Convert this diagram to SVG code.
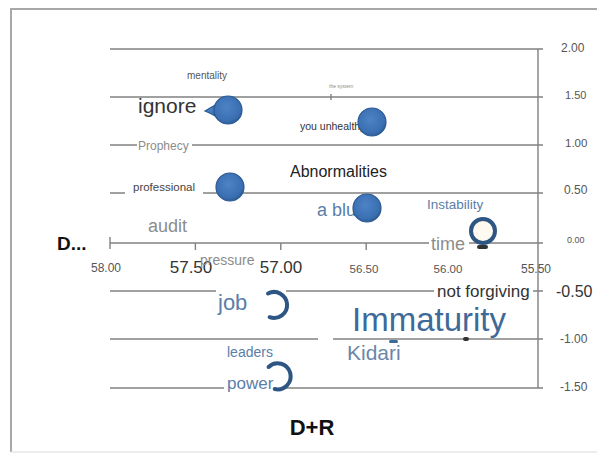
<svg xmlns="http://www.w3.org/2000/svg" width="597" height="456" viewBox="0 0 597 456">
  <defs>
    <radialGradient id="dotFill" cx="45%" cy="40%" r="60%">
      <stop offset="0" stop-color="#4d84c6"/>
      <stop offset="0.8" stop-color="#3a6fb2"/>
      <stop offset="1" stop-color="#2f5d98"/>
    </radialGradient>
    <style>
      .grid { stroke: #808080; stroke-width: 1.4; fill: none; }
      .knock { fill: #ffffff; }
      .t { font-family: "Liberation Sans", Arial, sans-serif; }
      .dark { fill: #333333; }
      .gray { fill: #8c8c8c; }
      .blue { fill: #5b7ea8; }
      .tick { fill: #555555; }
      .dot { fill: url(#dotFill); stroke: #2c5a93; stroke-width: 1.2; }
      .ring { fill: none; stroke: #2e5683; stroke-width: 4; stroke-linecap: round; }
    </style>
  </defs>

  <rect width="597" height="456" fill="#ffffff"/>
  <!-- outer frame -->
  <path d="M11,452 V9 H600" fill="none" stroke="#a8a8a8" stroke-width="2"/>
  <line x1="11" y1="452" x2="597" y2="452" stroke="#e6e6e6" stroke-width="1.5"/>

  <!-- gridlines and axes -->
  <g id="connectors">
    <line class="grid" x1="110" y1="49" x2="543" y2="49"/>
    <line class="grid" x1="110" y1="97" x2="543" y2="97"/>
    <line class="grid" x1="110" y1="145" x2="543" y2="145"/>
    <line class="grid" x1="110" y1="193" x2="543" y2="193"/>
    <line class="grid" x1="110" y1="243" x2="543" y2="243"/>
    <line class="grid" x1="110" y1="291" x2="543" y2="291"/>
    <line class="grid" x1="110" y1="339" x2="318" y2="339"/>
    <line class="grid" x1="333" y1="339" x2="543" y2="339"/>
    <line class="grid" x1="110" y1="388" x2="543" y2="388"/>
    <line class="grid" x1="538" y1="49" x2="538" y2="388"/>
    <!-- x-axis ticks -->
    <line class="grid" x1="110" y1="237" x2="110" y2="249"/>
    <line class="grid" x1="195.4" y1="243" x2="195.4" y2="250"/>
    <line class="grid" x1="280.8" y1="243" x2="280.8" y2="250"/>
    <line class="grid" x1="366.2" y1="243" x2="366.2" y2="250"/>
    <line class="grid" x1="451.6" y1="243" x2="451.6" y2="250"/>
    <line class="grid" x1="331" y1="94" x2="331" y2="100"/>
  </g>

  <!-- label backgrounds that break the gridlines -->
  <rect class="knock" x="137" y="139" width="55" height="12"/>
  <rect class="knock" x="125" y="182" width="78" height="13"/>
  <rect class="knock" x="429" y="234" width="40" height="18"/>
  <rect class="knock" x="434" y="282" width="99" height="19"/>
  <rect class="knock" x="216" y="285" width="70" height="12"/>
  <rect class="knock" x="224" y="380" width="62" height="14"/>

  <!-- axis values -->
  <g id="y-axis-labels" class="t tick">
    <text x="561" y="52" font-size="12">2.00</text>
    <text x="565" y="99" font-size="11">1.50</text>
    <text x="565" y="147" font-size="11.5">1.00</text>
    <text x="564" y="194" font-size="12">0.50</text>
    <text x="567" y="243" font-size="9">0.00</text>
    <text x="556" y="297" font-size="16" fill="#333">-0.50</text>
    <text x="560" y="343" font-size="12">-1.00</text>
    <text x="560" y="391" font-size="12">-1.50</text>
  </g>
  <g id="x-axis-labels" class="t tick">
    <text x="106" y="272" font-size="12" text-anchor="middle">58.00</text>
    <text x="191" y="273" font-size="17" text-anchor="middle" fill="#333">57.50</text>
    <text x="364" y="273" font-size="11.5" text-anchor="middle">56.50</text>
    <text x="448" y="273" font-size="11.5" text-anchor="middle">56.00</text>
    <text x="536" y="273" font-size="12" text-anchor="middle">55.50</text>
  </g>
  <g id="pressure"><text class="t gray" x="200" y="265" font-size="14">pressure</text></g>
  <g id="x-57"><text class="t" x="281" y="273" font-size="17" text-anchor="middle" fill="#333">57.00</text></g>

  <!-- axis titles -->
  <text class="t" x="57" y="250" font-size="19" font-weight="bold" fill="#111">D...</text>
  <text class="t" x="312" y="435" font-size="22" font-weight="bold" fill="#111" text-anchor="middle">D+R</text>

  <!-- nodes -->
  <g id="mentality"><text class="t" x="187" y="79" font-size="10" fill="#555">mentality</text></g>
  <g id="the-system"><text class="t gray" x="329" y="88" font-size="5">the system</text></g>
  <g id="ignore">
    <text class="t dark" x="138" y="113" font-size="21">ignore</text>
    <path class="dot" d="M217,104 Q210,108 205,111 Q210,113 217,117 Z"/>
    <circle class="dot" cx="228" cy="110" r="14"/>
  </g>
  <g id="you-unhealthy">
    <text class="t dark" x="300" y="130" font-size="10.5">you unhealthy</text>
    <circle class="dot" cx="372" cy="122" r="14"/>
  </g>
  <g id="prophecy"><text class="t gray" x="138" y="150" font-size="12">Prophecy</text></g>
  <g id="professional">
    <text class="t" x="133" y="191" font-size="11.5" fill="#444">professional</text>
    <circle class="dot" cx="230" cy="187" r="14"/>
  </g>
  <g id="abnormalities"><text class="t" x="290" y="177" font-size="16" fill="#222">Abnormalities</text></g>
  <g id="a-blur">
    <text class="t blue" x="317" y="216" font-size="18">a blur</text>
    <circle class="dot" cx="367" cy="208" r="14"/>
  </g>
  <g id="instability">
    <text class="t blue" x="427" y="209" font-size="13.5">Instability</text>
    <circle cx="483" cy="231" r="12" fill="#fffaf0" stroke="#2e5683" stroke-width="4"/>
    <rect x="477" y="245" width="11" height="4" rx="2" fill="#333"/>
  </g>
  <g id="audit"><text class="t gray" x="148" y="232" font-size="18">audit</text></g>
  <g id="time"><text class="t gray" x="431" y="250" font-size="18">time</text></g>
  <g id="job">
    <text class="t blue" x="218" y="310" font-size="22">job</text>
    <path class="ring" d="M268,293.5 A13,13 0 1 1 269.6,317.2"/>
  </g>
  <g id="not-forgiving"><text class="t dark" x="437" y="297" font-size="17">not forgiving</text></g>
  <g id="immaturity"><text class="t" x="352" y="331" font-size="33" fill="#3d6a98">Immaturity</text></g>
  <g id="kidari">
    <text class="t" x="347" y="360" font-size="21" fill="#6a86aa">Kidari</text>
    <rect x="389" y="340" width="9" height="3" rx="1.5" fill="#3d6a98"/>
    <rect x="463" y="337" width="6" height="4" rx="2" fill="#333"/>
  </g>
  <g id="leaders"><text class="t blue" x="227" y="357" font-size="14">leaders</text></g>
  <g id="power">
    <text class="t blue" x="227" y="389" font-size="17">power</text>
    <path class="ring" d="M268.6,367 A13,13 0 1 1 274.7,389"/>
  </g>
</svg>
